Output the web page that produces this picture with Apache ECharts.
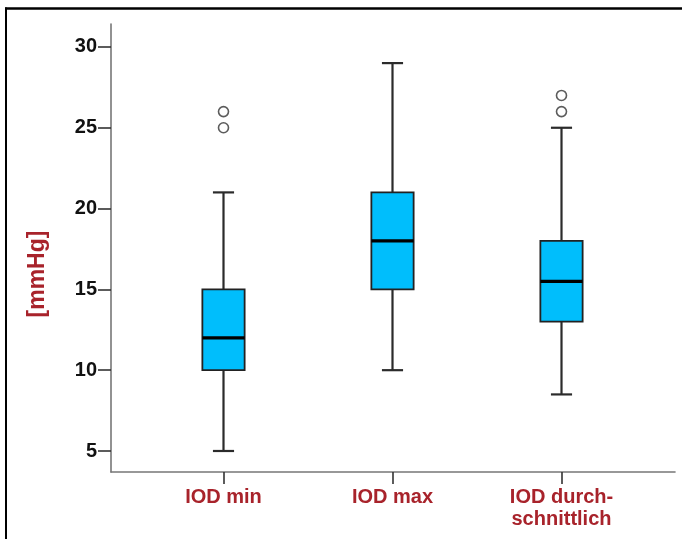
<!DOCTYPE html>
<html>
<head>
<meta charset="utf-8">
<style>
  html, body { margin: 0; padding: 0; background: #fff; }
  #chart { width: 682px; height: 539px; }
</style>
<script src="https://cdn.jsdelivr.net/npm/echarts@6/dist/echarts.min.js"></script>
</head>
<body>
<div id="chart"></div>
<script>
// Intraocular pressure groups
const categories = ['IOD min', 'IOD max', 'IOD durch-\nschnittlich'];
// [lower whisker, Q1, median, Q3, upper whisker] in mmHg
const boxStats = [
  [5, 10, 12, 15, 21],
  [10, 15, 18, 21, 29],
  [8.5, 13, 15.5, 18, 25]
];
// outliers: [category index, value]
const outliers = [
  [0, 25], [0, 26],
  [2, 26], [2, 27]
];
const yTicks = [5, 10, 15, 20, 25, 30];
const yName = '[mmHg]';

const fontFam = '"Liberation Sans", Arial, Helvetica, sans-serif';
const labelRed = '#A8232B';
const yMin = 3.7, yMax = 31.42;

const chart = echarts.init(document.getElementById('chart'), null, { renderer: 'canvas' });

const boxData = boxStats.map((s, i) => [i].concat(s));

function renderBox(params, api) {
  const x = api.value(0);
  const band = api.size([1, 0])[0];
  const halfBox = band * 0.125;
  const halfCap = band * 0.0625;
  const pLow = api.coord([x, api.value(1)]);
  const pQ1 = api.coord([x, api.value(2)]);
  const pMed = api.coord([x, api.value(3)]);
  const pQ3 = api.coord([x, api.value(4)]);
  const pHigh = api.coord([x, api.value(5)]);
  const cx = pMed[0];
  const whisk = { stroke: '#2b2b2b', lineWidth: 2.2 };
  return {
    type: 'group',
    children: [
      { type: 'line', shape: { x1: cx, y1: pQ3[1], x2: cx, y2: pHigh[1] }, style: whisk },
      { type: 'line', shape: { x1: cx, y1: pQ1[1], x2: cx, y2: pLow[1] }, style: whisk },
      { type: 'line', shape: { x1: cx - halfCap, y1: pHigh[1], x2: cx + halfCap, y2: pHigh[1] }, style: whisk },
      { type: 'line', shape: { x1: cx - halfCap, y1: pLow[1], x2: cx + halfCap, y2: pLow[1] }, style: whisk },
      {
        type: 'rect',
        shape: { x: cx - halfBox, y: pQ3[1], width: halfBox * 2, height: pQ1[1] - pQ3[1] },
        style: { fill: '#00BEFC', stroke: '#222', lineWidth: 1.8 }
      },
      { type: 'line', shape: { x1: cx - halfBox, y1: pMed[1], x2: cx + halfBox, y2: pMed[1] }, style: { stroke: '#000', lineWidth: 3.2 } }
    ]
  };
}

const option = {
  animation: false,
  backgroundColor: '#fff',
  grid: [
    { left: 111, right: 7, top: 24, bottom: 67 },
    { left: 139, right: 36, top: 24, bottom: 67 }
  ],
  xAxis: [
    {
      gridIndex: 0, type: 'value', min: 0, max: 1,
      axisLine: { show: true, lineStyle: { color: '#777', width: 1.6 } },
      axisTick: { show: false }, axisLabel: { show: false }, splitLine: { show: false }
    },
    {
      gridIndex: 1, type: 'category', data: categories,
      axisLine: { show: false },
      axisTick: { show: true, alignWithLabel: true, length: 12, lineStyle: { color: '#333', width: 1.6 } },
      axisLabel: {
        margin: 14, color: labelRed, fontWeight: 'bold', fontSize: 20,
        fontFamily: fontFam, lineHeight: 22, align: 'center'
      },
      splitLine: { show: false }
    }
  ],
  yAxis: [
    {
      gridIndex: 0, type: 'value', min: yMin, max: yMax,
      axisLine: { show: true, lineStyle: { color: '#777', width: 1.6 } },
      axisTick: { show: true, length: 13, customValues: yTicks, lineStyle: { color: '#333', width: 1.6 } },
      axisLabel: {
        customValues: yTicks, margin: 14, color: '#111', fontWeight: 'bold',
        fontSize: 20, fontFamily: fontFam
      },
      splitLine: { show: false }
    },
    {
      gridIndex: 1, type: 'value', min: yMin, max: yMax, show: false
    }
  ],
  graphic: [
    { type: 'line', shape: { x1: 5, y1: 8.5, x2: 682, y2: 8.5 }, style: { stroke: '#000', lineWidth: 2.5 }, z: 10 },
    { type: 'line', shape: { x1: 6, y1: 7.5, x2: 6, y2: 539 }, style: { stroke: '#000', lineWidth: 2 }, z: 10 },
    {
      type: 'text', x: 38, y: 274, rotation: Math.PI / 2,
      style: {
        text: yName, fill: labelRed, font: 'bold 23px ' + fontFam,
        align: 'center', verticalAlign: 'middle'
      }
    }
  ],
  series: [
    {
      type: 'custom', xAxisIndex: 1, yAxisIndex: 1,
      data: boxData,
      encode: { x: 0, y: [1, 2, 3, 4, 5] },
      renderItem: renderBox,
      z: 2
    },
    {
      type: 'scatter', xAxisIndex: 1, yAxisIndex: 1,
      data: outliers,
      symbol: 'circle', symbolSize: 10,
      itemStyle: { color: '#fff', borderColor: '#333', borderWidth: 1.6 },
      z: 3
    }
  ]
};

chart.setOption(option);
</script>
</body>
</html>
